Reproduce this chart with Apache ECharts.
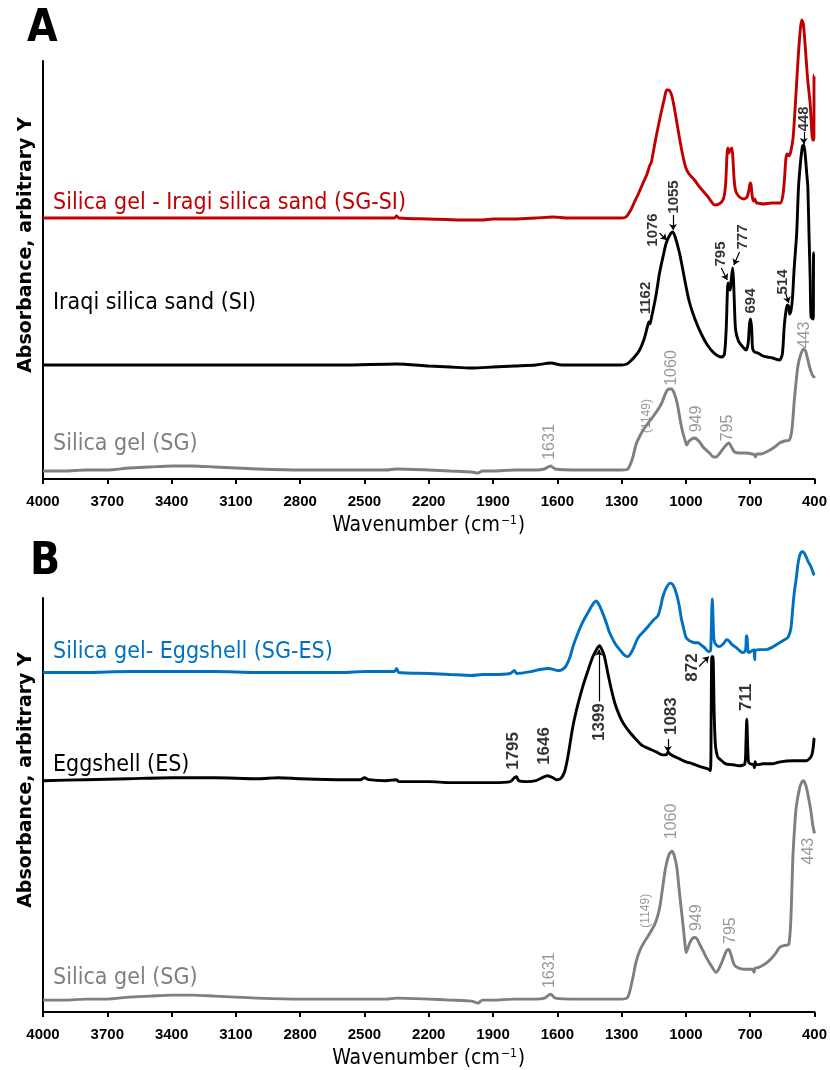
<!DOCTYPE html>
<html lang="en">
<head>
<meta charset="UTF-8">
<title>FTIR spectra</title>
<script src="https://cdn.jsdelivr.net/npm/echarts@6/dist/echarts.min.js"></script>
<style>
  html, body { margin: 0; padding: 0; background: #fff; }
  #chart { width: 830px; height: 1070px; }
</style>
</head>
<body>
<div id="chart"></div>
<script>
// wavenumber tick labels (cm-1)
var xTicks = [4000, 3700, 3400, 3100, 2800, 2500, 2200, 1900, 1600, 1300, 1000, 700, 400];

// ---- panel A : [wavenumber, absorbance as plotted (stacked offset)] ----
var sgsiA = [[4000,261],[3800,261],[3600,261],[3400,261],[3200,261],[3000,261],[2800,261],[2600,261],[2360,261],[2350,263],[2340,261],[2200,260],[2050,259],[1950,259],[1900,260],[1800,260],[1700,261],[1620,262],[1550,261],[1400,261],[1300,261],[1280,262],[1260,268],[1240,277],[1220,286],[1200,296],[1185,303],[1175,309],[1170,313],[1165,315],[1160,318],[1140,341],[1120,362],[1100,381],[1090,389],[1082,389],[1070,386],[1060,378],[1045,360],[1030,341],[1015,324],[1000,311],[985,305],[960,299],[936,292],[900,283],[880,277],[866,274],[845,275],[825,280],[815,294],[808,325],[804,331],[799,326],[795,328],[790,330],[785,331],[780,318],[774,297],[766,287],[750,282],[730,280],[715,282],[705,290],[700,296],[696,294],[690,282],[684,278],[678,280],[672,276],[665,276],[640,275],[600,276],[560,276],[548,283],[540,300],[533,321],[526,325],[518,323],[510,328],[500,341],[490,372],[478,415],[468,445],[460,459],[452,455],[443,432],[432,400],[420,375],[412,345],[408,339],[403,339],[402,404],[400,404]];
var siA = [[4000,114],[3700,114],[3400,114],[3000,114],[2600,114],[2350,115],[2200,113],[2100,112],[2000,111],[1900,112],[1800,113],[1700,114],[1630,116],[1580,114],[1400,114],[1300,114],[1275,115],[1263,117],[1240,122],[1216,129],[1195,140],[1180,152],[1173,157],[1168,155],[1160,162],[1140,183],[1123,206],[1105,224],[1092,236],[1075,244],[1061,247],[1050,242],[1030,226],[1015,210],[999,192],[985,178],[968,166],[945,153],[921,142],[900,134],[874,127],[850,123],[831,122],[820,125],[812,150],[806,190],[803,196],[798,191],[793,189],[788,200],[782,211],[778,200],[773,170],[768,149],[755,138],[742,134],[730,131],[720,129],[710,135],[703,155],[698,160],[693,150],[689,131],[680,127],[664,126],[640,123],[620,122],[596,121],[563,119],[550,125],[542,150],[535,165],[527,174],[521,173],[516,165],[510,168],[503,180],[495,210],[483,246],[475,290],[466,315],[456,333],[450,334],[444,326],[436,305],[431,292],[425,240],[420,200],[416,162],[406,160],[404,226],[400,226]];
var sgA = [[4000,8],[3900,8],[3800,9],[3700,9],[3600,11],[3500,12],[3400,13],[3300,13],[3200,12],[3100,11],[3000,10],[2800,9],[2600,9],[2400,9],[2350,10],[2200,9],[2100,8],[2000,7],[1970,6],[1950,8],[1900,8],[1800,9],[1700,9],[1660,10],[1631,13],[1610,10],[1500,9],[1400,9],[1300,9],[1271,10],[1250,20],[1232,35],[1210,45],[1193,51],[1165,59],[1138,67],[1115,75],[1092,87],[1078,90],[1068,90],[1055,86],[1040,75],[1025,57],[1014,46],[1000,36],[996,34],[985,38],[960,41],[940,38],[920,32],[890,26],[870,22],[859,22],[845,25],[820,32],[800,36],[785,31],[773,27],[750,26],[720,26],[690,25],[680,24],[675,22],[670,25],[650,25],[625,27],[600,30],[580,33],[563,36],[540,38],[517,39],[505,50],[494,79],[478,112],[465,124],[450,130],[440,127],[423,112],[410,104],[402,102],[400,101]];

// ---- panel B ----
var sgesB = [[4000,342],[3800,342],[3600,343],[3400,343],[3200,343],[3000,342],[2800,342],[2600,342],[2500,343],[2360,343],[2350,346],[2340,342],[2200,341],[2100,340],[2000,339],[1950,340],[1900,340],[1820,341],[1800,344],[1790,341],[1720,343],[1680,345],[1640,346],[1600,344],[1589,344],[1570,346],[1558,349],[1540,358],[1527,368],[1505,381],[1481,393],[1450,405],[1430,412],[1418,414],[1405,410],[1387,401],[1370,391],[1356,382],[1330,371],[1309,365],[1290,360],[1271,358],[1250,364],[1230,374],[1216,379],[1190,385],[1170,390],[1150,395],[1131,399],[1118,408],[1108,418],[1090,428],[1072,432],[1060,430],[1045,422],[1030,408],[1022,397],[1010,386],[999,377],[985,374],[975,373],[960,372],[944,372],[925,369],[913,367],[895,363],[885,364],[881,390],[877,416],[873,395],[869,375],[860,370],[843,368],[825,371],[810,375],[800,374],[785,370],[765,367],[750,364],[734,362],[722,364],[718,378],[715,379],[711,365],[707,362],[690,364],[682,365],[679,355],[676,364],[660,365],[640,365],[625,365],[600,367],[563,372],[540,375],[525,377],[515,382],[509,388],[500,410],[493,425],[486,435],[478,450],[470,459],[462,463],[455,464],[447,462],[440,459],[430,454],[420,450],[410,445],[404,441],[400,440]];
var esB = [[4000,233],[3800,234],[3600,235],[3400,236],[3200,236],[3000,235],[2900,236],[2800,235],[2600,234],[2520,234],[2500,236],[2480,234],[2400,233],[2350,234],[2340,232],[2200,232],[2100,231],[2000,231],[1900,231],[1820,232],[1800,236],[1790,237],[1780,233],[1740,232],[1700,233],[1670,236],[1646,238],[1620,236],[1605,234],[1585,235],[1566,242],[1550,258],[1527,288],[1505,309],[1481,328],[1460,342],[1434,358],[1415,366],[1403,369],[1392,365],[1380,358],[1365,342],[1348,325],[1330,310],[1309,298],[1290,290],[1263,282],[1230,274],[1201,268],[1170,265],[1138,262],[1110,259],[1092,259],[1083,262],[1075,260],[1060,258],[1030,255],[1000,252],[968,250],[930,247],[898,245],[886,243],[882,300],[879,358],[874,358],[868,300],[862,268],[852,257],[843,255],[815,250],[780,249],[750,248],[725,250],[720,270],[716,295],[712,270],[708,252],[700,250],[685,249],[680,246],[677,252],[670,249],[640,250],[594,250],[560,252],[501,253],[470,253],[439,253],[420,256],[411,260],[405,268],[402,275],[400,276]];
var sgB = [[4000,12],[3900,12],[3800,13],[3700,13],[3600,15],[3500,16],[3400,17],[3300,17],[3200,16],[3100,15],[3000,14],[2800,13],[2600,13],[2400,13],[2350,14],[2200,13],[2100,12],[2000,11],[1970,9],[1950,12],[1900,12],[1800,13],[1700,13],[1660,14],[1631,18],[1610,14],[1500,13],[1400,13],[1300,13],[1271,15],[1250,32],[1232,51],[1215,62],[1201,68],[1175,77],[1146,88],[1130,98],[1120,108],[1108,126],[1095,145],[1080,158],[1066,162],[1055,158],[1042,145],[1030,120],[1017,95],[1005,70],[999,60],[985,68],[970,74],[955,75],[935,68],[905,55],[880,46],[859,40],[845,44],[825,54],[810,62],[800,63],[790,58],[773,47],[750,44],[719,43],[690,43],[682,40],[678,44],[660,45],[640,47],[610,52],[585,58],[563,65],[540,67],[520,68],[510,95],[501,155],[493,185],[486,205],[470,225],[458,232],[451,233],[440,228],[427,215],[415,200],[408,188],[400,180]];

// peak labels: [wavenumber, y, text]
var peaksSiA = [[1185,181,'1162'],[1155,249,'1076'],[1057,282,'1055'],[835,225,'795'],[734,242,'777'],[699,178,'694'],[548,197,'514'],[450,360,'448']];
var peaksSgA = [[1636,37,'1631'],[1182,63,'(1149)'],[1068,111,'1060'],[952,60,'949'],[804,51,'795'],[447,144,'443']];
var peaksEsB = [[1804,263,'1795'],[1659,268,'1646'],[1406,292,'1399'],[1069,298,'1083'],[968,347,'872'],[716,317,'711']];
var peaksSgB = [[1636,42,'1631'],[1188,102,'(1149)'],[1068,192,'1060'],[952,95,'949'],[793,82,'795'],[428,162,'443']];
// arrows: [from wavenumber, from y, to wavenumber, to y]
var arrowsA = [[1123,246,1090,239],[1060,264,1060,249],[835,211,807,199],[750,227,776,214],[535,186,520,176],[450,347,450,335]];
var arrowsB = [[1406,313,1406,365],[1084,275,1084,262],[939,348,893,358]];

var RED = '#c00000', BLUE = '#0070c0', GRAY = '#7f7f7f', BLACK = '#000';
var NARROW = "'Liberation Sans Narrow', 'DejaVu Sans Condensed', 'Liberation Sans', sans-serif";

var chart = echarts.init(document.getElementById('chart'));

function xAxisFor(i) {
  return {
    type: 'value', gridIndex: i, min: 400, max: 4000, inverse: true,
    axisLine: { lineStyle: { color: BLACK, width: 2 } },
    axisTick: { customValues: xTicks, length: 5, lineStyle: { color: BLACK, width: 2 } },
    axisLabel: { customValues: xTicks, color: BLACK, fontWeight: 'bold', fontSize: 15, margin: 15,
      fontFamily: "'Liberation Sans', sans-serif", formatter: function (v) { return String(v); } },
    splitLine: { show: false },
    name: 'Wavenumber (cm{sup|−1})', nameLocation: 'middle', nameGap: 36,
    nameTextStyle: { color: BLACK, fontSize: 21, fontFamily: NARROW,
      rich: { sup: { fontSize: 12, verticalAlign: 'top', padding: [0, 1, 8, 1] } } }
  };
}
function yAxisFor(i, max) {
  return {
    type: 'value', gridIndex: i, min: 0, max: max,
    axisLine: { show: true, lineStyle: { color: BLACK, width: 2 } },
    axisTick: { show: false }, axisLabel: { show: false }, splitLine: { show: false }
  };
}
function spectrum(data, color, i) {
  return {
    type: 'line', data: data, xAxisIndex: i, yAxisIndex: i,
    showSymbol: false, clip: false, smooth: 0.25,
    lineStyle: { color: color, width: 2.9 }, silent: true
  };
}
function peakLabels(list, color, weight, size, i, arrows) {
  var s = {
    type: 'scatter', xAxisIndex: i, yAxisIndex: i, symbolSize: 0, silent: true,
    data: list.map(function (p) {
      var small = p[2].charAt(0) === '(';
      return { value: [p[0], p[1]], name: p[2], label: small ? { fontSize: size - 4 } : {} };
    }),
    label: { show: true, position: 'inside', rotate: 90, formatter: '{b}', color: color,
      fontWeight: weight, fontSize: size, fontFamily: "'Liberation Sans', sans-serif" }
  };
  if (arrows) {
    s.markLine = {
      silent: true, symbol: ['none', 'arrow'], symbolSize: 6,
      label: { show: false },
      lineStyle: { color: BLACK, width: 1.2, type: 'solid' },
      data: arrows.map(function (a) { return [{ coord: [a[0], a[1]] }, { coord: [a[2], a[3]] }]; })
    };
  }
  return s;
}
function text(str, x, y, color, font, rot) {
  return { type: 'text', x: x, y: y, rotation: rot || 0, silent: true,
    style: { text: str, fill: color, font: font, align: rot ? 'center' : 'left', verticalAlign: 'middle' } };
}

var nameFont = "23px " + NARROW;
var yTitleFont = "bold 19px 'DejaVu Sans', sans-serif";
var option = {
  animation: false,
  backgroundColor: '#fff',
  grid: [
    { left: 43, top: 61, width: 772, height: 418 },
    { left: 43, top: 598, width: 772, height: 417 }
  ],
  xAxis: [xAxisFor(0), xAxisFor(1)],
  yAxis: [yAxisFor(0, 418), yAxisFor(1, 417)],
  series: [
    spectrum(sgsiA, RED, 0), spectrum(siA, BLACK, 0), spectrum(sgA, GRAY, 0),
    spectrum(sgesB, BLUE, 1), spectrum(esB, BLACK, 1), spectrum(sgB, GRAY, 1),
    peakLabels(peaksSiA, BLACK, 'bold', 15, 0, arrowsA),
    peakLabels(peaksSgA, GRAY, 'normal', 16, 0),
    peakLabels(peaksEsB, BLACK, 'bold', 17, 1, arrowsB),
    peakLabels(peaksSgB, GRAY, 'normal', 16, 1)
  ],
  graphic: [
    text('A', 27, 30, BLACK, "bold 44px " + NARROW),
    text('B', 30, 563, BLACK, "bold 44px " + NARROW),
    text('Absorbance, arbitrary Y', 26, 245, BLACK, yTitleFont, Math.PI / 2),
    text('Absorbance, arbitrary Y', 26, 780, BLACK, yTitleFont, Math.PI / 2),
    text('Silica gel - Iragi silica sand (SG-SI)', 53, 203, RED, nameFont),
    text('Iraqi silica sand (SI)', 53, 303, BLACK, nameFont),
    text('Silica gel (SG)', 53, 444, GRAY, nameFont),
    text('Silica gel- Eggshell (SG-ES)', 53, 652, BLUE, nameFont),
    text('Eggshell (ES)', 53, 765, BLACK, nameFont),
    text('Silica gel (SG)', 53, 978, GRAY, nameFont)
  ]
};
chart.setOption(option);
</script>
</body>
</html>
